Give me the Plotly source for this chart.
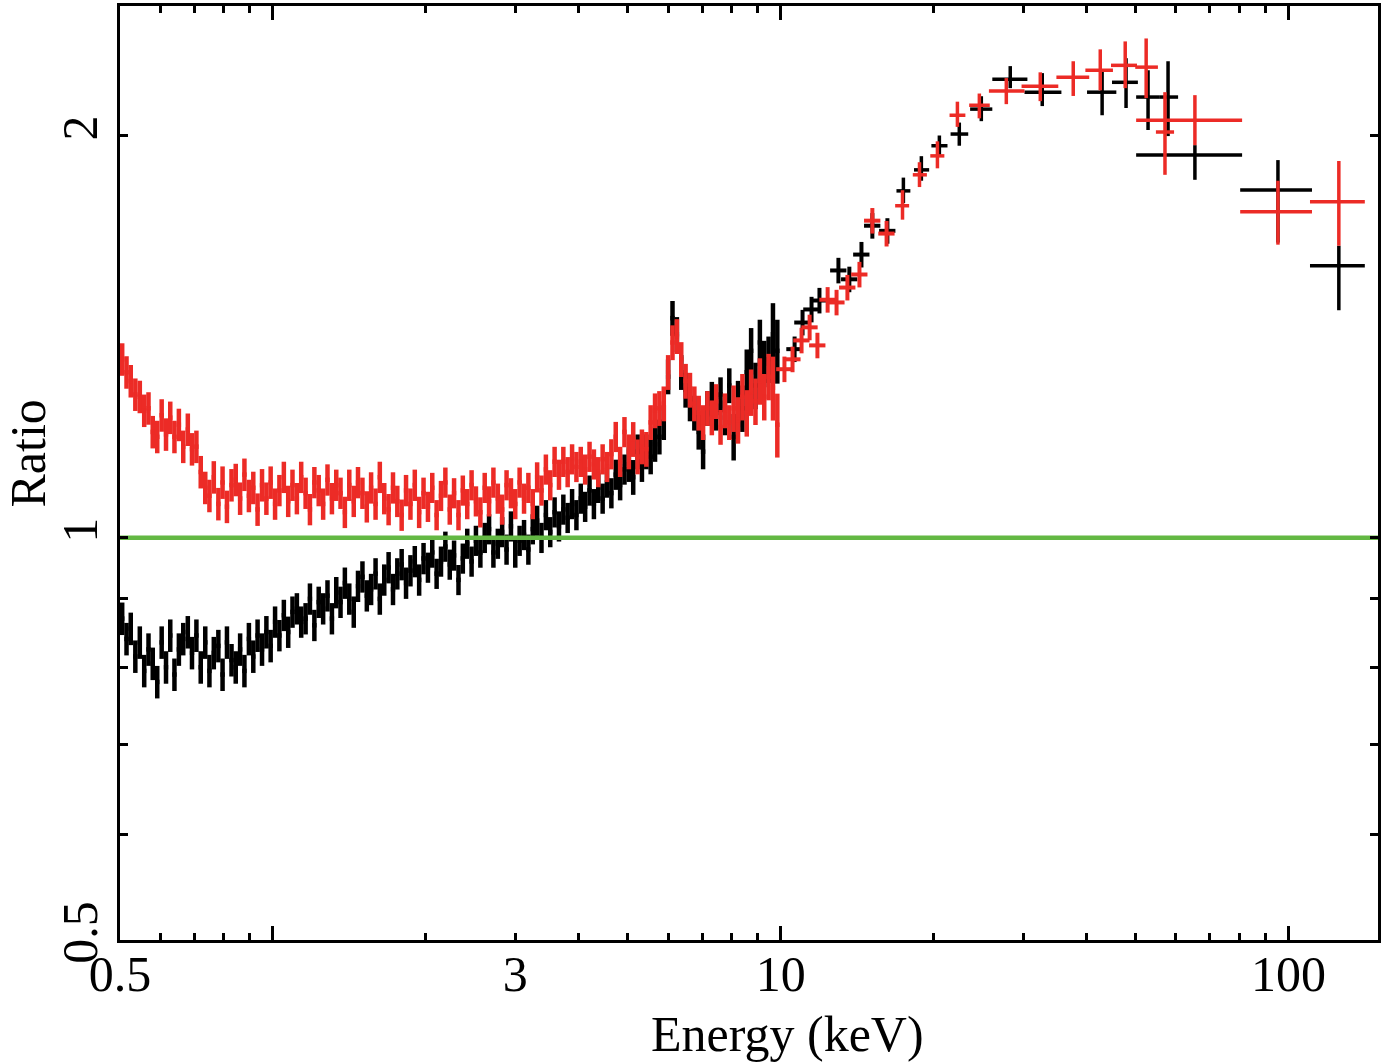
import math
import plotly.graph_objects as go

# ---------------- data ----------------
# soft band channel energies (keV), shared by both instruments
E_soft = [0.505, 0.515, 0.525, 0.536, 0.547, 0.558, 0.569, 0.580, 0.592, 0.604,
          0.616, 0.628, 0.640, 0.653, 0.666, 0.680, 0.693, 0.707, 0.721, 0.736,
          0.750, 0.765, 0.781, 0.796, 0.812, 0.829, 0.845, 0.862, 0.879, 0.897,
          0.915, 0.933, 0.952, 0.971, 0.990, 1.010, 1.030, 1.051, 1.072, 1.093,
          1.115, 1.137, 1.160, 1.183, 1.207, 1.231, 1.256, 1.281, 1.307, 1.333,
          1.359, 1.386, 1.414, 1.443, 1.471, 1.501, 1.531, 1.561, 1.593, 1.624,
          1.657, 1.690, 1.724, 1.758, 1.793, 1.829, 1.866, 1.903, 1.941, 1.980,
          2.020, 2.060, 2.101, 2.143, 2.186, 2.230, 2.274, 2.320, 2.366, 2.414,
          2.462, 2.511, 2.562, 2.613, 2.665, 2.718, 2.773, 2.828, 2.885, 2.943,
          3.001, 3.061, 3.123, 3.185, 3.249, 3.314, 3.380, 3.448, 3.517, 3.587,
          3.659, 3.732, 3.806, 3.883, 3.960, 4.039, 4.120, 4.203, 4.287, 4.372,
          4.460, 4.549, 4.640, 4.733, 4.828, 4.924, 5.023, 5.123, 5.226, 5.330,
          5.437, 5.545, 5.656, 5.769, 5.885, 6.002, 6.122, 6.245, 6.370, 6.497,
          6.627, 6.760, 6.895, 7.033, 7.173, 7.317, 7.463, 7.612, 7.765, 7.920,
          8.078, 8.240, 8.405, 8.573, 8.744, 8.919, 9.098, 9.280, 9.465, 9.654,
          9.847]

R_soft_black = [0.87, 0.84, 0.855, 0.815, 0.835, 0.795, 0.825, 0.805, 0.78, 0.835,
                0.80, 0.845, 0.79, 0.825, 0.84, 0.85, 0.82, 0.845, 0.80, 0.835,
                0.795, 0.82, 0.83, 0.79, 0.835, 0.81, 0.80, 0.825, 0.795, 0.84,
                0.815, 0.845, 0.825, 0.85, 0.83, 0.865, 0.845, 0.875, 0.85, 0.88,
                0.885, 0.865, 0.87, 0.90, 0.86, 0.895, 0.885, 0.905, 0.87, 0.91,
                0.895, 0.925, 0.90, 0.88, 0.92, 0.935, 0.905, 0.915, 0.94, 0.90,
                0.93, 0.95, 0.915, 0.94, 0.955, 0.925, 0.945, 0.96, 0.93, 0.965,
                0.95, 0.975, 0.94, 0.96, 0.985, 0.955, 0.97, 0.93, 0.965, 0.99,
                0.96, 0.995, 0.975, 1.00, 1.015, 0.975, 0.99, 1.01, 0.98, 1.02,
                0.975, 0.995, 1.005, 0.98, 1.015, 1.03, 1.00, 1.04, 1.01, 1.045,
                1.02, 1.05, 1.035, 1.06, 1.04, 1.07, 1.055, 1.085, 1.06, 1.09,
                1.07, 1.10, 1.08, 1.115, 1.095, 1.125, 1.135, 1.11, 1.16, 1.135,
                1.16, 1.15, 1.175, 1.19, 1.22, 1.32, 1.46, 1.42, 1.33, 1.29,
                1.26, 1.24, 1.20, 1.16, 1.25, 1.27, 1.24, 1.28, 1.23, 1.30,
                1.19, 1.26, 1.25, 1.33, 1.38, 1.30, 1.40, 1.35, 1.36, 1.42,
                1.38]

R_soft_red = [1.36, 1.33, 1.31, 1.28, 1.275, 1.245, 1.25, 1.20, 1.19, 1.235,
              1.195, 1.23, 1.19, 1.215, 1.17, 1.205, 1.165, 1.17, 1.12, 1.09,
              1.075, 1.11, 1.06, 1.10, 1.055, 1.095, 1.105, 1.07, 1.115, 1.075,
              1.09, 1.05, 1.095, 1.07, 1.10, 1.06, 1.085, 1.11, 1.065, 1.095,
              1.07, 1.11, 1.08, 1.05, 1.10, 1.085, 1.06, 1.105, 1.07, 1.095,
              1.08, 1.045, 1.095, 1.065, 1.10, 1.08, 1.055, 1.09, 1.06, 1.11,
              1.07, 1.05, 1.09, 1.065, 1.04, 1.085, 1.06, 1.095, 1.045, 1.08,
              1.055, 1.09, 1.04, 1.075, 1.10, 1.05, 1.08, 1.04, 1.085, 1.06,
              1.095, 1.065, 1.045, 1.09, 1.065, 1.10, 1.07, 1.05, 1.095, 1.08,
              1.06, 1.10, 1.07, 1.09, 1.06, 1.11, 1.085, 1.125, 1.095, 1.14,
              1.115, 1.14, 1.12, 1.145, 1.13, 1.14, 1.125, 1.15, 1.135, 1.12,
              1.145, 1.13, 1.155, 1.19, 1.14, 1.20, 1.16, 1.185, 1.15, 1.17,
              1.165, 1.22, 1.245, 1.25, 1.26, 1.33, 1.40, 1.415, 1.36, 1.31,
              1.29, 1.26, 1.24, 1.22, 1.25, 1.23, 1.265, 1.21, 1.245, 1.22,
              1.25, 1.225, 1.275, 1.24, 1.285, 1.265, 1.31, 1.275, 1.32, 1.295,
              1.215]

# relative 1-sigma ratio errors by energy band (upper edge keV, fraction)
soft_err_bands = [(1.0, 0.028), (2.0, 0.027), (5.0, 0.026), (8.0, 0.03), (9.5, 0.04), (11.0, 0.055)]
soft_bin_ratio = 1.02

# 10-17 keV points
E_mid_black = [10.65, 11.04, 11.50, 11.92, 12.99, 13.65, 14.42, 15.15, 16.22]
R_mid_black = [1.384, 1.449, 1.482, 1.505, 1.585, 1.561, 1.629, 1.712, 1.697]
E_mid_red = [10.17, 10.55, 10.99, 11.40, 11.81, 12.37, 12.88, 13.53, 14.29, 15.15, 16.16]
R_mid_red = [1.337, 1.360, 1.405, 1.437, 1.393, 1.507, 1.500, 1.539, 1.574, 1.727, 1.689]
mid_xerr_frac = 0.037
mid_yerr_frac = 0.022

# hard X-ray points
E_hard_black = [17.44, 18.92, 20.53, 22.47, 24.83, 28.31, 32.73, 42.94, 47.86, 52.88, 57.9, 65.4, 95.3, 125.6]
E_hard_black_lo = [16.9, 18.3, 19.8, 21.6, 23.6, 26.1, 30.2, 40.1, 44.9, 50.1, 55.6, 50.1, 80.3, 110.2]
E_hard_black_hi = [18.0, 19.6, 21.3, 23.4, 26.1, 30.6, 35.7, 45.8, 50.5, 55.6, 60.6, 81.0, 111.2, 141.3]
R_hard_black = [1.818, 1.885, 1.965, 2.005, 2.093, 2.204, 2.155, 2.155, 2.192, 2.137, 2.137, 1.934, 1.821, 1.598]
R_hard_black_lo = [1.78, 1.85, 1.93, 1.965, 2.05, 2.170, 2.104, 2.071, 2.097, 2.019, 1.998, 1.853, 1.663, 1.480]
R_hard_black_hi = [1.86, 1.93, 2.00, 2.045, 2.14, 2.254, 2.227, 2.235, 2.285, 2.238, 2.273, 1.967, 1.917, 1.654]

E_hard_red = [17.37, 18.76, 20.35, 22.28, 24.61, 27.81, 32.44, 37.67, 42.58, 47.68, 52.43, 57.1, 65.4, 95.3, 125.6]
E_hard_red_lo = [16.8, 18.2, 19.7, 21.5, 23.5, 25.7, 29.8, 34.9, 39.8, 44.7, 49.9, 54.8, 50.1, 80.3, 110.2]
E_hard_red_hi = [17.9, 19.4, 21.0, 23.1, 25.8, 30.2, 35.2, 40.5, 45.1, 50.3, 55.3, 59.5, 81.0, 111.2, 141.3]
R_hard_red = [1.772, 1.869, 1.931, 2.071, 2.107, 2.159, 2.177, 2.211, 2.238, 2.257, 2.250, 2.012, 2.053, 1.754, 1.784]
R_hard_red_lo = [1.73, 1.83, 1.89, 2.03, 2.06, 2.111, 2.122, 2.141, 2.162, 2.170, 2.133, 1.869, 1.967, 1.657, 1.654]
R_hard_red_hi = [1.82, 1.91, 1.98, 2.12, 2.15, 2.208, 2.230, 2.273, 2.320, 2.352, 2.364, 2.155, 2.144, 1.850, 1.914]

x_tick_labels = ["0.5", "3", "10", "100"]
x_tick_vals = [0.5, 3, 10, 100]
y_tick_labels = ["0.5", "1", "2"]
y_tick_vals = [0.5, 1, 2]

# ---------------- styles ----------------
BLACK = "#000000"
RED = "#ec2b26"
GREEN = "#63b843"
FONT = "Liberation Serif"


def frac_for(e):
    for upper, f in soft_err_bands:
        if e < upper:
            return f
    return soft_err_bands[-1][1]


def xy_trace(E, R, elo, ehi, rlo, rhi, color, thick):
    return go.Scatter(
        x=E, y=R, mode="markers",
        marker=dict(size=2, color=color),
        error_x=dict(type="data", symmetric=False,
                     array=[h - e for e, h in zip(E, ehi)],
                     arrayminus=[e - l for e, l in zip(E, elo)],
                     color=color, thickness=thick, width=0),
        error_y=dict(type="data", symmetric=False,
                     array=[h - r for r, h in zip(R, rhi)],
                     arrayminus=[r - l for r, l in zip(R, rlo)],
                     color=color, thickness=thick, width=0),
        showlegend=False, hoverinfo="skip",
    )


half = math.sqrt(soft_bin_ratio)
soft_elo = [e / half for e in E_soft]
soft_ehi = [e * half for e in E_soft]

fig = go.Figure()

# black (instrument 1)
fig.add_trace(xy_trace(E_soft, R_soft_black, soft_elo, soft_ehi,
                       [r * (1 - frac_for(e)) for e, r in zip(E_soft, R_soft_black)],
                       [r * (1 + frac_for(e)) for e, r in zip(E_soft, R_soft_black)],
                       BLACK, 4.5))
fig.add_trace(xy_trace(E_mid_black, R_mid_black,
                       [e * (1 - mid_xerr_frac) for e in E_mid_black],
                       [e * (1 + mid_xerr_frac) for e in E_mid_black],
                       [r * (1 - mid_yerr_frac) for r in R_mid_black],
                       [r * (1 + mid_yerr_frac) for r in R_mid_black],
                       BLACK, 4))
fig.add_trace(xy_trace(E_hard_black, R_hard_black, E_hard_black_lo, E_hard_black_hi,
                       R_hard_black_lo, R_hard_black_hi, BLACK, 3.5))

# red (instrument 2)
fig.add_trace(xy_trace(E_soft, R_soft_red, soft_elo, soft_ehi,
                       [r * (1 - frac_for(e)) for e, r in zip(E_soft, R_soft_red)],
                       [r * (1 + frac_for(e)) for e, r in zip(E_soft, R_soft_red)],
                       RED, 4.5))
fig.add_trace(xy_trace(E_mid_red, R_mid_red,
                       [e * (1 - mid_xerr_frac) for e in E_mid_red],
                       [e * (1 + mid_xerr_frac) for e in E_mid_red],
                       [r * (1 - mid_yerr_frac) for r in R_mid_red],
                       [r * (1 + mid_yerr_frac) for r in R_mid_red],
                       RED, 4))
fig.add_trace(xy_trace(E_hard_red, R_hard_red, E_hard_red_lo, E_hard_red_hi,
                       R_hard_red_lo, R_hard_red_hi, RED, 3.5))

# unity line
fig.add_trace(go.Scatter(x=[0.5, 150], y=[1, 1], mode="lines",
                         line=dict(color=GREEN, width=4.5),
                         showlegend=False, hoverinfo="skip"))

# dummy trace to activate label axis
fig.add_trace(go.Scatter(x=[1], y=[1], xaxis="x2", mode="markers",
                         marker=dict(opacity=0), showlegend=False, hoverinfo="skip"))

xr = [math.log10(0.5), math.log10(150)]
yr = [math.log10(0.5), math.log10(2.5)]

x_minor = [0.6, 0.7, 0.8, 0.9, 2, 3, 4, 5, 6, 7, 8, 9, 20, 30, 40, 50, 60, 70, 80, 90]

fig.update_layout(
    width=1384, height=1063,
    margin=dict(l=120, r=4, t=3, b=123),
    paper_bgcolor="white", plot_bgcolor="white",
    font=dict(family=FONT, size=50, color="black"),
    xaxis=dict(type="log", range=xr, showgrid=False, zeroline=False,
               showline=True, linecolor="black", linewidth=3, mirror="ticks",
               ticks="inside", tickvals=[1, 10, 100], ticklen=14, tickwidth=3,
               tickcolor="black", showticklabels=False,
               minor=dict(tickvals=x_minor, ticks="inside", ticklen=7,
                          tickwidth=3, tickcolor="black", showgrid=False)),
    xaxis2=dict(type="log", range=xr, overlaying="x", anchor="y", side="bottom",
                showgrid=False, zeroline=False, showline=False, ticks="",
                tickvals=x_tick_vals, ticktext=x_tick_labels,
                tickfont=dict(family=FONT, size=50, color="black")),
    yaxis=dict(type="log", range=yr, showgrid=False, zeroline=False,
               showline=True, linecolor="black", linewidth=3, mirror="ticks",
               ticks="inside", tickvals=y_tick_vals, ticktext=y_tick_labels,
               ticklen=8, tickwidth=3, tickcolor="black", tickangle=-90,
               tickfont=dict(family=FONT, size=50, color="black"),
               minor=dict(tickvals=[0.6, 0.7, 0.8, 0.9], ticks="inside", ticklen=8,
                          tickwidth=3, tickcolor="black", showgrid=False)),
    annotations=[
        dict(text="Energy (keV)", xref="paper", yref="paper", x=0.531, y=-0.101,
             xanchor="center", yanchor="middle", showarrow=False,
             font=dict(family=FONT, size=50, color="black")),
        dict(text="Ratio", xref="paper", yref="paper", x=-0.073, y=0.521,
             xanchor="center", yanchor="middle", textangle=-90, showarrow=False,
             font=dict(family=FONT, size=50, color="black")),
    ],
)

fig.write_html("out.html")
